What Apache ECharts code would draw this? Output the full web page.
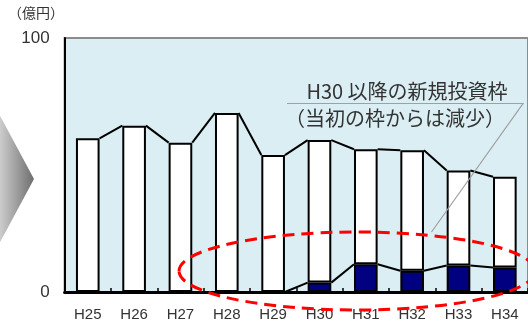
<!DOCTYPE html>
<html>
<head>
<meta charset="utf-8">
<script src="https://cdn.jsdelivr.net/npm/echarts@6/dist/echarts.min.js"></script>
<style>
  html, body { margin: 0; padding: 0; background: #ffffff; }
  #chart { width: 528px; height: 322px; }
</style>
</head>
<body>
<div id="chart"></div>
<script>
// Fiscal years (Heisei)
const years = ['H25', 'H26', 'H27', 'H28', 'H29', 'H30', 'H31', 'H32', 'H33', 'H34'];
// Total investment per year (億円)
const totals = [60.5, 65.5, 58.8, 70.5, 53.9, 59.8, 56.2, 55.8, 47.8, 45.4];
// New investment frame from H30 onward (億円)
const newFrame = [0, 0, 0, 0, 0, 3.7, 10.9, 8.4, 10.4, 9.6];
// Value-axis tick labels
const yTicks = [0, 100];

const remainder = totals.map((t, i) => +(t - newFrame[i]).toFixed(1));
const BAR_RATIO = 0.51;
const FONT = '"Liberation Sans", Arial, sans-serif';
const CJK = '"Noto Sans CJK JP", "Noto Sans CJK SC", sans-serif';

// Connector lines between adjacent bar tops (right edge -> next left edge)
function seriesLines(values) {
  return function (params, api) {
    const i = api.value(0);
    if (i >= values.length - 1) return null;
    const half = api.size([1, 0])[0] * BAR_RATIO / 2;
    const a = api.coord([i, values[i]]);
    const b = api.coord([i + 1, values[i + 1]]);
    return {
      type: 'line',
      shape: { x1: a[0] + half, y1: a[1], x2: b[0] - half, y2: b[1] },
      style: { stroke: '#000000', lineWidth: 2 },
      z2: 10
    };
  };
}

const chart = echarts.init(document.getElementById('chart'), null, { renderer: 'canvas' });
chart.setOption({
  animation: false,
  grid: {
    left: 64.6, top: 38, width: 469, height: 254,
    show: true, backgroundColor: '#DAEEF3', borderColor: '#8c8c8c', borderWidth: 2
  },
  xAxis: {
    type: 'category',
    data: years,
    boundaryGap: true,
    axisLine: { lineStyle: { color: '#000000', width: 3 } },
    axisTick: { show: true, inside: true, length: 4, lineStyle: { color: '#000000', width: 1.5 } },
    axisLabel: { color: '#333333', fontSize: 15, fontFamily: FONT, margin: 15 },
    splitLine: { show: false },
    z: 5
  },
  yAxis: {
    type: 'value',
    min: yTicks[0], max: yTicks[yTicks.length - 1], interval: yTicks[1] - yTicks[0],
    axisLine: { show: true, lineStyle: { color: '#000000', width: 2 } },
    axisTick: { show: false },
    axisLabel: { color: '#333333', fontSize: 17, fontFamily: FONT, margin: 15 },
    splitLine: { show: false },
    z: 5
  },
  series: [
    {
      name: '新規投資枠', type: 'bar', stack: 'total', barWidth: (BAR_RATIO * 100) + '%',
      data: newFrame.map(v => (v > 0 ? v : '-')),
      itemStyle: { color: '#000080', borderColor: '#000000', borderWidth: 2 }
    },
    {
      name: '既存', type: 'bar', stack: 'total',
      data: remainder,
      itemStyle: { color: '#ffffff', borderColor: '#000000', borderWidth: 2 }
    },
    {
      type: 'custom', renderItem: seriesLines(totals),
      data: years.map((_, i) => [i]), encode: { x: 0 }, z: 3, silent: true
    },
    {
      type: 'custom', renderItem: seriesLines(newFrame),
      data: years.map((_, i) => [i]).slice(4), encode: { x: 0 }, z: 3, silent: true
    }
  ],
  graphic: [
    // unit label
    { type: 'text', left: 8, top: 6, style: { text: '（億円）', font: '14px ' + CJK, fill: '#333333' } },
    // grey chevron at the left edge
    {
      type: 'polygon', shape: { points: [[-2, 112], [34, 179], [-2, 246]] },
      style: {
        fill: new echarts.graphic.LinearGradient(0, 0, 1, 0, [
          { offset: 0, color: '#d2d2d2' }, { offset: 1, color: '#6e6e6e' }
        ])
      }
    },
    // callout text
    {
      type: 'text', x: 407, y: 91, z: 20,
      style: { text: 'H30 以降の新規投資枠', font: '20px ' + CJK, fill: '#333333', align: 'center', verticalAlign: 'middle' }
    },
    {
      type: 'text', x: 395, y: 118, z: 20,
      style: { text: '（当初の枠からは減少）', font: '20px ' + CJK, fill: '#333333', align: 'center', verticalAlign: 'middle' }
    },
    // callout leader
    {
      type: 'polyline', z: 20,
      shape: { points: [[287, 103.5], [523, 103.5], [431.5, 232]] },
      style: { stroke: '#a0a0a0', lineWidth: 1.2, fill: null }
    },
    // dashed red ellipse around the new frame
    {
      type: 'ellipse', z: 30,
      shape: { cx: 357, cy: 271, rx: 178, ry: 39 },
      style: { fill: null, stroke: '#ff0000', lineWidth: 3, lineDash: [12, 7] }
    }
  ]
});
</script>
</body>
</html>
